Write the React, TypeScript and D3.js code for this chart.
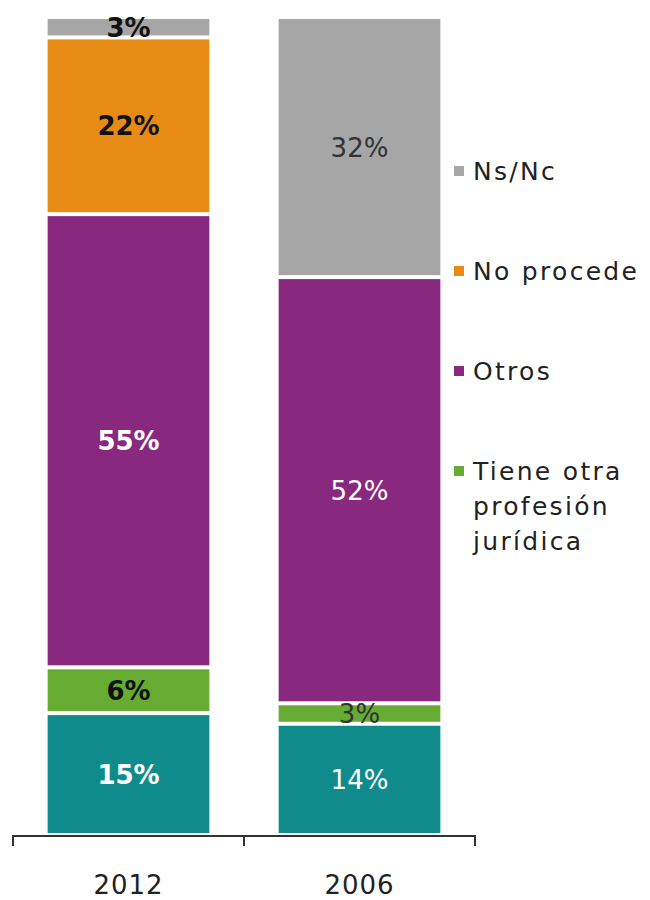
import React from "react";
import * as d3 from "d3";

const years = ["2012", "2006"];
// stack order, bottom to top
const keys = ["abogado", "otraProfesion", "otros", "noProcede", "nsnc"];
// shares; the labels show them rounded
const abogado = [14.9, 13.6];
const otraProfesion = [5.6, 2.5];
const otros = [55.4, 52.1];
const noProcede = [21.6, 0];
const nsnc = [2.5, 31.8];

const legendKeys = ["nsnc", "noProcede", "otros", "otraProfesion"];
const legendLabels = {
  nsnc: ["Ns/Nc"],
  noProcede: ["No procede"],
  otros: ["Otros"],
  otraProfesion: ["Tiene otra", "profesión", "jurídica"],
};

const colors = {
  abogado: "#108b8b",
  otraProfesion: "#66ac32",
  otros: "#88297f",
  noProcede: "#e88b15",
  nsnc: "#a6a6a6",
};

// segments whose label is dark rather than white
const darkText = { otraProfesion: true, noProcede: true, nsnc: true };

const FONT = "'DejaVu Sans', sans-serif";

const App = () => {
  const width = 650;
  const height = 900;

  const rows = years.map((year, i) => ({
    year,
    abogado: abogado[i],
    otraProfesion: otraProfesion[i],
    otros: otros[i],
    noProcede: noProcede[i],
    nsnc: nsnc[i],
  }));

  const series = d3.stack().keys(keys)(rows);

  const x = d3
    .scaleBand()
    .domain(years)
    .range([13, 475])
    .paddingInner(0.3)
    .paddingOuter(0.15);

  const y = d3.scaleLinear().domain([0, 100]).range([835, 17]);

  const step = x.step();
  const axisY = 836;
  const ticks = [13, 13 + step, 13 + 2 * step];

  return (
    <svg
      width={width}
      height={height}
      style={{ position: "absolute", left: 0, top: 0, background: "#fff" }}
    >
      {series.map((s) => (
        <g key={s.key}>
          {s.map((d, i) => {
            const v = d[1] - d[0];
            if (v <= 0) return null;
            const year = years[i];
            const y0 = y(d[1]) + 2;
            const y1 = y(d[0]) - 2;
            const bold = year === "2012";
            const dark = darkText[s.key];
            const fill = dark ? (bold ? "#111" : "#333") : "#fff";
            return (
              <g key={year}>
                <rect
                  x={x(year)}
                  y={y0}
                  width={x.bandwidth()}
                  height={y1 - y0}
                  fill={colors[s.key]}
                />
                <text
                  x={x(year) + x.bandwidth() / 2}
                  y={(y0 + y1) / 2 + 2}
                  textAnchor="middle"
                  dominantBaseline="middle"
                  fontFamily={FONT}
                  fontSize={26}
                  fontWeight={bold ? "bold" : "normal"}
                  fill={fill}
                >
                  {Math.round(v)}%
                </text>
              </g>
            );
          })}
        </g>
      ))}

      {/* axis */}
      <path
        d={`M${ticks[0]},${axisY + 10}V${axisY}H${ticks[2]}V${axisY + 10}M${ticks[1]},${axisY}V${axisY + 10}`}
        fill="none"
        stroke="#333"
        strokeWidth={2}
      />
      {years.map((yr) => (
        <text
          key={yr}
          x={x(yr) + x.bandwidth() / 2}
          y={894}
          textAnchor="middle"
          fontFamily={FONT}
          fontSize={26}
          letterSpacing={1}
          fill="#222"
        >
          {yr}
        </text>
      ))}

      {/* legend */}
      {legendKeys.map((k, i) => {
        const cy = 171 + i * 100;
        return (
          <g key={k}>
            <rect x={454} y={cy - 5} width={10} height={10} fill={colors[k]} />
            {legendLabels[k].map((line, j) => (
              <text
                key={line}
                x={473}
                y={cy + 9 + j * 35}
                fontFamily={FONT}
                fontSize={25}
                letterSpacing={2.3}
                fill="#222"
              >
                {line}
              </text>
            ))}
          </g>
        );
      })}
    </svg>
  );
};

export default App;
